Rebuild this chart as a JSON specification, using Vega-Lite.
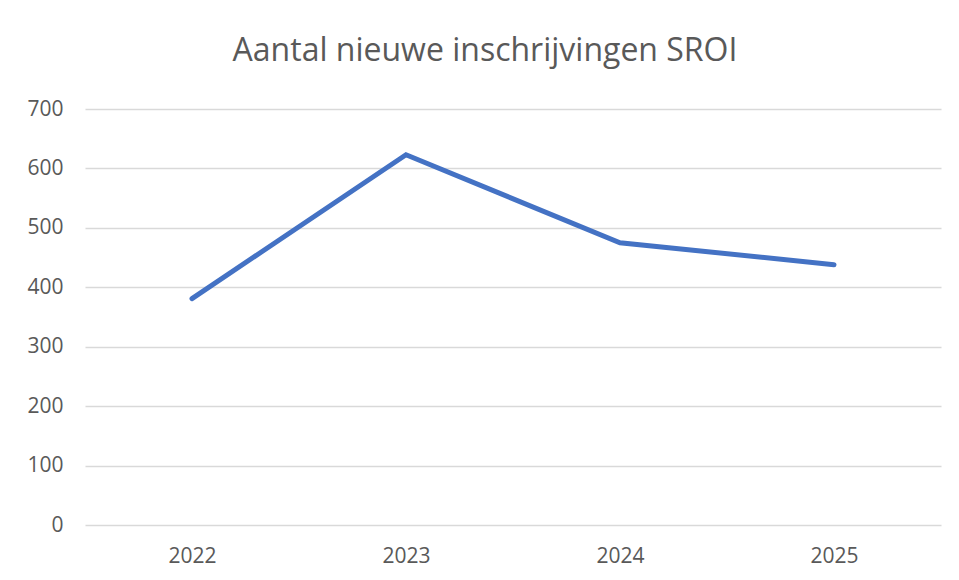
{
  "$schema": "https://vega.github.io/schema/vega-lite/v6.json",
  "autosize": {"type": "none"},
  "padding": {"left": 85, "top": 109, "right": 18, "bottom": 55},
  "width": 856,
  "height": 416,
  "background": "white",
  "title": {
    "text": "Aantal nieuwe inschrijvingen SROI",
    "font": "Open Sans",
    "fontSize": 32,
    "fontWeight": "normal",
    "color": "#595959",
    "anchor": "middle",
    "baseline": "alphabetic",
    "dx": -28,
    "offset": 5
  },
  "data": {
    "values": [
      {"jaar": "2022", "aantal": 381},
      {"jaar": "2023", "aantal": 623},
      {"jaar": "2024", "aantal": 475},
      {"jaar": "2025", "aantal": 438}
    ]
  },
  "mark": {"type": "line", "color": "#4472C4", "strokeWidth": 5, "strokeCap": "round", "strokeJoin": "miter"},
  "encoding": {
    "x": {
      "field": "jaar",
      "type": "ordinal",
      "scale": {"type": "point", "padding": 0.5},
      "axis": {"title": null, "labelAngle": 0, "ticks": false, "domain": false, "grid": false, "labelPadding": 20, "labelFont": "Open Sans", "labelFontSize": 21, "labelColor": "#595959"}
    },
    "y": {
      "field": "aantal",
      "type": "quantitative",
      "scale": {"domain": [0, 700], "nice": false},
      "axis": {"title": null, "values": [0, 100, 200, 300, 400, 500, 600, 700], "ticks": false, "domain": false, "grid": true, "gridColor": "#D9D9D9", "gridWidth": 1.5, "labelPadding": 22, "labelFont": "Open Sans", "labelFontSize": 21, "labelColor": "#595959"}
    }
  },
  "config": {"view": {"stroke": null}}
}
